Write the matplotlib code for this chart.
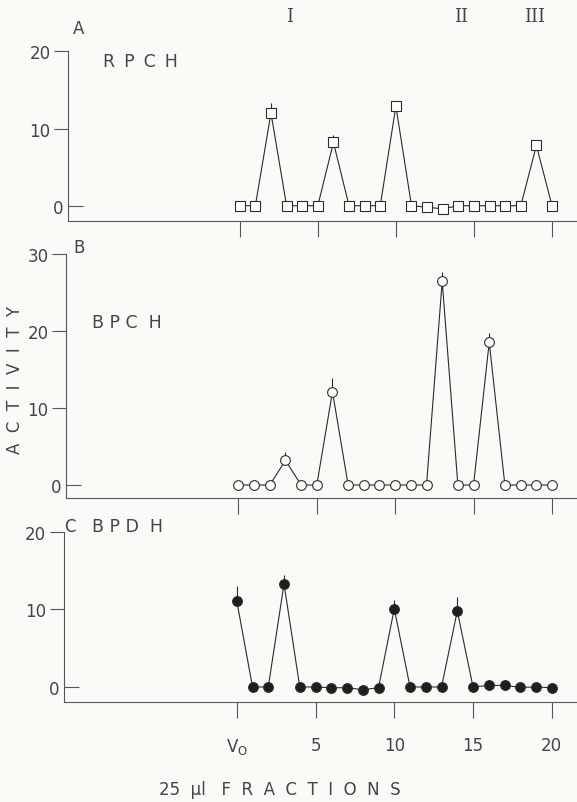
import matplotlib.pyplot as plt

# ===============================
# DATA
# ===============================
fractions = list(range(21))

rpch = [0, 0, 12.0, 0, 0, 0, 8.2, 0, 0, 0, 12.9, 0, -0.2, -0.4, 0, 0, 0, 0, 0, 7.8, 0]
rpch_err = [0, 0, 1.3, 0, 0, 0, 1.0, 0, 0, 0, 0.7, 0, 0, 0, 0, 0, 0, 0, 0, 0.3, 0]

bpch = [0, 0, 0, 3.2, 0, 0, 12.1, 0, 0, 0, 0, 0, 0, 26.4, 0, 0, 18.5, 0, 0, 0, 0]
bpch_err = [0, 0, 0, 1.1, 0, 0, 1.8, 0, 0, 0, 0, 0, 0, 1.2, 0, 0, 1.2, 0, 0, 0, 0]

bpdh = [11.1, 0, 0, 13.3, 0, 0, -0.1, -0.1, -0.35, -0.1, 10.1, 0, 0, 0, 9.8, 0, 0.2, 0.2, -0.05, 0, -0.1]
bpdh_err = [1.9, 0, 0, 1.2, 0, 0, 0, 0, 0, 0, 1.1, 0, 0, 0, 1.8, 0, 0, 0, 0, 0, 0]

x_ticks = [0, 5, 10, 15, 20]
x_ticklabels = [r'V$_{\rm O}$', '5', '10', '15', '20']

peak_names = ['I', 'II', 'III']
peak_pos = [3.2, 14.2, 18.9]

# ===============================
# STYLE
# ===============================
BG = '#fbfaf7'
INK = '#2b2b2b'
TXT = '#444444'
W, H = 577, 803

plt.rcParams['font.family'] = ['DejaVu Sans']
plt.rcParams['text.color'] = TXT
plt.rcParams['xtick.color'] = '#555555'
plt.rcParams['ytick.color'] = '#555555'
plt.rcParams['xtick.labelcolor'] = TXT
plt.rcParams['ytick.labelcolor'] = TXT

fig = plt.figure(figsize=(W / 100, H / 100), dpi=100, facecolor=BG)


def px_axes(left, top, bottom):
    # axes box from pixel positions, right edge at figure edge
    return fig.add_axes([left / W, 1 - bottom / H, 1 - left / W, (bottom - top) / H])


def style_panel(ax, ymin, ymax, yticks, show_x):
    ax.set_facecolor(BG)
    ax.set_xlim(-11.0, 21.6)
    ax.set_ylim(ymin, ymax)
    for s in ['top', 'right']:
        ax.spines[s].set_visible(False)
    for s in ['left', 'bottom']:
        ax.spines[s].set_color('#555555')
        ax.spines[s].set_linewidth(0.8)

    ax.set_yticks(yticks, [str(v) for v in yticks])
    ax.set_yticks([0], ['0'], minor=True)
    ax.tick_params(axis='y', which='major', direction='out', length=10,
                   width=0.8, pad=2.5, labelsize=12)
    ax.tick_params(axis='y', which='minor', direction='in', length=11,
                   width=0.8, pad=3, labelsize=12)

    ax.set_xticks(x_ticks)
    if show_x:
        ax.set_xticklabels(x_ticklabels)
    else:
        ax.set_xticklabels([])
    ax.tick_params(axis='x', direction='out', length=11.5, width=0.8,
                   pad=13, labelsize=12)


def draw_series(ax, y, err, marker, face):
    # only the upper half of each error bar shows in the original
    lower = [0] * len(err)
    ax.errorbar(fractions, y, yerr=[lower, err], fmt='-', marker=marker, ms=7,
                mfc=face, mec=INK, mew=0.8, color=INK, lw=0.8,
                elinewidth=0.8, ecolor=INK, capsize=0, clip_on=False)


# ===============================
# PANEL A - RPCH
# ===============================
axA = px_axes(68, 52.3, 221.7)
style_panel(axA, -1.94, 20, [10, 20], False)
draw_series(axA, rpch, rpch_err, 's', 'white')

for name, pos in zip(peak_names, peak_pos):
    axA.text(pos, 24.6, name, ha='center', va='center', fontsize=13,
             family='DejaVu Serif', color=TXT)

# ===============================
# PANEL B - BPCH
# ===============================
axB = px_axes(66, 254.5, 499)
style_panel(axB, -1.68, 30, [10, 20, 30], False)
draw_series(axB, bpch, bpch_err, 'o', 'white')

# ===============================
# PANEL C - BPDH
# ===============================
axC = px_axes(63.5, 533, 703)
style_panel(axC, -1.94, 20, [10, 20], True)
draw_series(axC, bpdh, bpdh_err, 'o', '#1e1e1e')

# ===============================
# LABELS
# ===============================
fig.text(79 / W, 1 - 29 / H, 'A', ha='center', va='center', fontsize=12)
fig.text(102.7 / W, 1 - 62 / H, 'R\u2009 P\u2009 C\u2009 H', ha='left', va='center', fontsize=12.5)

fig.text(79 / W, 1 - 248 / H, 'B', ha='center', va='center', fontsize=12)
fig.text(92.3 / W, 1 - 323 / H, 'B P C  H', ha='left', va='center', fontsize=12.5)

fig.text(64 / W, 1 - 527 / H, 'C', ha='left', va='center', fontsize=12)
fig.text(92 / W, 1 - 527 / H, 'B P D  H', ha='left', va='center', fontsize=12.5)

fig.text(15 / W, 1 - 380 / H, 'A  C  T  I  V  I  T  Y', rotation=90,
         ha='center', va='center', fontsize=12)

fig.text(280 / W, 1 - 790 / H, '25  µl   F  R  A  C  T  I  O  N  S', ha='center',
         va='center', fontsize=12)

fig.savefig('out.png', dpi=100, facecolor=BG)
